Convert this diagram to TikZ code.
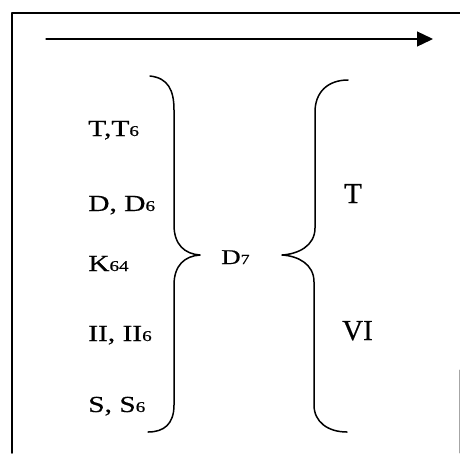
\documentclass[tikz,border=0pt]{standalone}
\usepackage{fontspec}
\setmainfont[FakeBold=0.5]{Liberation Serif}
\usetikzlibrary{arrows.meta}
\usetikzlibrary{positioning}
\newcommand{\dg}[2][15]{{\fontsize{#1}{#1}\selectfont #2}}
\tikzset{
	>={Triangle[length=16pt, width=15pt]},
	frame/.style={black, line width=1.5pt},
	edgeline/.style={black!35, line width=0.8pt},
	flow/.style={black, line width=1.3pt, ->},
	brace/.style={black, line width=1.5pt},
	chord/.style={font=\fontsize{23}{25}\selectfont, xscale=1.28, inner sep=0pt, anchor=base west},
	goal/.style={font=\fontsize{29}{31}\selectfont, inner sep=0pt, anchor=base west},
}

\begin{document}
\begin{tikzpicture}[x=1pt, y=-1pt, line cap=round, line join=round]
	
	% Page size
	\useasboundingbox (0,0) rectangle (460,453);
	
	% Frame round the scheme
	\draw[frame] (460,13) -- (12,13) -- (12,453);
	\draw[edgeline] (459,370) -- (459,453);
	
	% Direction of motion
	\coordinate (arrstart) at (46,39);
	\coordinate (arrend) at (433,39);
	\draw[flow] (arrstart) -- (arrend);
	
	% Chords before the dominant seventh
	\node[chord] (tt) at (88,136) {T,T\dg{6}};
	\node[chord] (dd) at (88,211) {D, D\dg{6}};
	\node[chord] (kk) at (88,271) {K\dg{64}};
	\node[chord] (ii) at (88,341) {II, II\dg{6}};
	\node[chord] (ss) at (88,412) {S, S\dg{6}};
	
	% Left brace
	\draw[brace] (150,76) .. controls (168,78) and (174,90) .. (174,110)
		-- (174,225) .. controls (174,245) and (185,254) .. (200,255)
		.. controls (185,256) and (174,265) .. (174,285)
		-- (174,405) .. controls (174,424) and (164,432) .. (148,432);
	
	% Dominant seventh
	\node[chord, font=\fontsize{21}{23}\selectfont] (dseven) at (221,264) {D\dg[14]{7}};
	
	% Right brace
	\draw[brace] (348,80) .. controls (328,80) and (315,92) .. (315,112)
		-- (315,228) .. controls (315,246) and (298,254) .. (282,255)
		.. controls (298,256) and (314,264) .. (314,282)
		-- (314,405) .. controls (314,422) and (328,432) .. (347,432);
	
	% Resolutions
	\node[goal] (tres) at (344,203) {T};
	\node[goal] (vires) at (342,340) {VI};
	
\end{tikzpicture}
\end{document}
